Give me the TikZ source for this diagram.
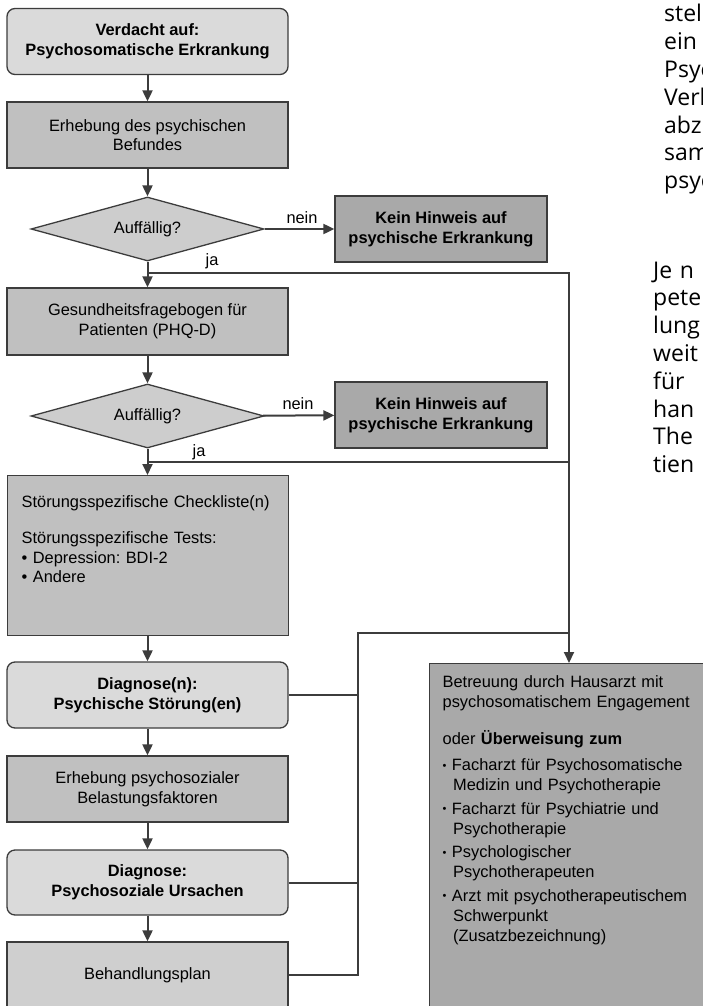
\documentclass[tikz,border=0pt]{standalone}
\usepackage{fontspec}
\setmainfont{Liberation Sans}
\newfontfamily\pagefont{Open Sans}
\usetikzlibrary{shapes.geometric,arrows.meta}
\frenchspacing

\definecolor{lightbox}{HTML}{DADADA}
\definecolor{midbox}{HTML}{C0C0C0}
\definecolor{querybox}{HTML}{CDCDCD}
\definecolor{darkbox}{HTML}{A9A9A9}
\definecolor{planbox}{HTML}{CFCFCF}
\definecolor{rim}{HTML}{3C3C3C}

\tikzset{
  base/.style={draw=rim, line width=1.3pt, inner sep=0pt, minimum width=281pt,
    align=center, font=\fontsize{16.4}{19.7}\selectfont},
  diag/.style={base, rounded corners=8pt, fill=lightbox, minimum height=66pt,
    font=\fontsize{16.4}{19.7}\selectfont\bfseries},
  work/.style={base, fill=midbox, minimum height=66pt},
  query/.style={base, diamond, aspect=3.6, fill=querybox, minimum width=233pt,
    minimum height=64pt},
  nohint/.style={base, fill=darkbox, minimum width=212pt, minimum height=66pt,
    font=\fontsize{16.4}{19.7}\selectfont\bfseries},
  listbox/.style={draw=rim, line width=1.3pt, anchor=north west, inner ysep=0pt,
    align=left, font=\fontsize{16.4}{19.7}\selectfont},
  tag/.style={anchor=base, inner sep=0pt, font=\fontsize{16.4}{19.7}\selectfont},
  pagetext/.style={anchor=base west, inner sep=0pt, align=left, text width=80pt,
    font=\pagefont\fontsize{23}{27.8}\selectfont},
  wire/.style={draw=rim, line width=2pt},
  arr/.style={wire, -{Triangle[length=11pt,width=10pt]}},
}

\newcommand{\smallbul}{\raisebox{1.2pt}{\fontsize{11}{11}\selectfont\textbullet}}

\begin{document}
\begin{tikzpicture}[x=1pt,y=-1pt]
  \useasboundingbox (0,0) rectangle (702,1006);

  % main column
  \node[diag] (start) at (147.5,41.5) {Verdacht auf:\\Psychosomatische Erkrankung};
  \node[work] (befund) at (147.5,135) {Erhebung des psychischen\\Befundes};
  \node[query] (ask1) at (147.5,229) {Auffällig?};
  \node[nohint] (none1) at (441,229) {Kein Hinweis auf\\psychische Erkrankung};
  \node[work, minimum height=67pt] (phq) at (147.5,321.5) {Gesundheitsfragebogen für\\Patienten (PHQ-D)};
  \node[query] (ask2) at (147.5,416) {Auffällig?};
  \node[nohint] (none2) at (441,415) {Kein Hinweis auf\\psychische Erkrankung};
  \node[listbox, fill=midbox, inner xsep=14pt, text width=253pt, text height=32pt,
    text depth=128pt] (tests) at (7,475)
    {Störungsspezifische Checkliste(n)\\[16pt]
     Störungsspezifische Tests:\\
     \textbullet\ Depression: BDI-2\\
     \textbullet\ Andere};
  \node[diag] (diag1) at (147.5,695) {Diagnose(n):\\Psychische Störung(en)};
  \node[work] (belast) at (147.5,789) {Erhebung psychosozialer\\Belastungsfaktoren};
  \node[diag, minimum height=65pt] (diag2) at (147.5,882.5) {Diagnose:\\Psychosoziale Ursachen};
  \node[work, fill=planbox] (plan) at (147.5,975) {Behandlungsplan};

  % referral box
  \node[listbox, fill=darkbox, inner xsep=13pt, text width=270pt, text height=24pt,
    text depth=380pt, font=\fontsize{16.4}{20}\selectfont] (care) at (429,663)
    {Betreuung durch Hausarzt mit\\
     psychosomatischem Engagement\\[17pt]
     oder \textbf{Überweisung zum}\\[6pt]
     \smallbul\ Facharzt für Psychosomatische\\
     \hspace*{10.5pt}Medizin und Psychotherapie\\[3.5pt]
     \smallbul\ Facharzt für Psychiatrie und\\
     \hspace*{10.5pt}Psychotherapie\\[3.5pt]
     \smallbul\ Psychologischer\\
     \hspace*{10.5pt}Psychotherapeuten\\[3.5pt]
     \smallbul\ Arzt mit psychotherapeutischem\\
     \hspace*{10.5pt}Schwerpunkt\\
     \hspace*{10.5pt}(Zusatzbezeichnung)};

  % text of the page beside the chart
  \node[pagetext] (col1) at (664,22) {stell\\ein\\Psyc\\Verl\\abz\\sam\\psyc};
  \node[pagetext] (col2) at (653,278) {Je n\\pete\\lung\\weit\\für\\han\\The\\tien};

  % joints
  \coordinate (j1) at (569,273);
  \coordinate (j2) at (569,462);
  \coordinate (m1) at (569,633);
  \coordinate (m0) at (358,633);

  % connectors
  \draw[arr] (start) -- (befund);
  \draw[arr] (befund) -- (ask1);
  \draw[arr] (ask1) -- (none1);
  \draw[arr] (ask1) -- (phq);
  \draw[arr] (phq) -- (ask2);
  \draw[arr] (ask2) -- (none2);
  \draw[arr] (ask2) -- (tests.north -| ask2);
  \draw[arr] (tests.south -| ask2) -- (diag1);
  \draw[arr] (diag1) -- (belast);
  \draw[arr] (belast) -- (diag2);
  \draw[arr] (diag2) -- (plan);
  \draw[wire] (ask1.south |- j1) -- (j1) -- (m1);
  \draw[wire] (ask2.south |- j2) -- (j2);
  \draw[wire] (diag1.east) -| (m0) -- (m1);
  \draw[wire] (diag2.east) -- (diag2.east -| m0);
  \draw[wire] (plan.east) -| (m0);
  \draw[arr] (m1) -- (care.north -| m1);

  % labels
  \node[tag] (no1) at (302,223) {nein};
  \node[tag] (yes1) at (212,265) {ja};
  \node[tag] (no2) at (298,409) {nein};
  \node[tag] (yes2) at (199,456) {ja};
\end{tikzpicture}
\end{document}
